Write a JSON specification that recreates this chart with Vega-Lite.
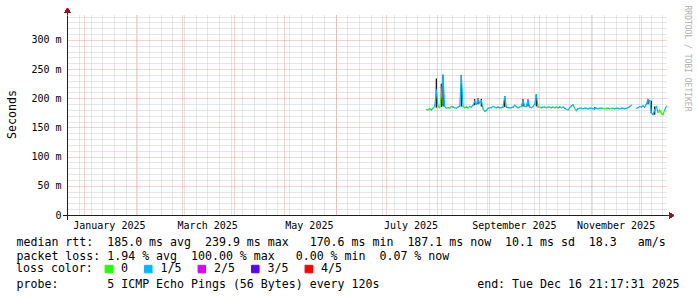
{
 "$schema": "https://vega.github.io/schema/vega-lite/v6.json",
 "width": 600,
 "height": 200,
 "autosize": {"type": "none"},
 "padding": {"left": 67, "top": 15, "right": 30, "bottom": 82},
 "background": "white",
 "config": {"view": {"stroke": null}, "font": "DejaVu Sans Mono"},
 "data": {
  "format": {"parse": {"t": "date"}},
  "values": [
   {"t":"2025-07-25T12:00","med":181,"loss":"0"},
   {"t":"2025-07-26T12:00","med":180,"loss":"0"},
   {"t":"2025-07-27T12:00","med":182,"loss":"1/5"},
   {"t":"2025-07-28T12:00","med":180,"loss":"1/5"},
   {"t":"2025-07-29T12:00","med":183,"loss":"0"},
   {"t":"2025-07-30T12:00","med":186,"loss":"1/5"},
   {"t":"2025-07-31T12:00","med":214,"loss":"1/5","lo":184,"hi":234},
   {"t":"2025-08-01T12:00","med":186,"loss":"0"},
   {"t":"2025-08-02T12:00","med":184,"loss":"0"},
   {"t":"2025-08-03T12:00","med":205,"loss":"1/5","lo":185,"hi":225},
   {"t":"2025-08-04T12:00","med":239.9,"loss":"1/5","lo":186,"hi":240},
   {"t":"2025-08-05T12:00","med":186,"loss":"1/5"},
   {"t":"2025-08-06T12:00","med":183,"loss":"0"},
   {"t":"2025-08-07T12:00","med":184,"loss":"1/5"},
   {"t":"2025-08-08T12:00","med":183,"loss":"0"},
   {"t":"2025-08-09T12:00","med":186,"loss":"1/5"},
   {"t":"2025-08-10T12:00","med":185,"loss":"1/5"},
   {"t":"2025-08-11T12:00","med":184,"loss":"0"},
   {"t":"2025-08-12T12:00","med":183,"loss":"1/5"},
   {"t":"2025-08-13T12:00","med":185,"loss":"1/5"},
   {"t":"2025-08-14T12:00","med":186,"loss":"1/5"},
   {"t":"2025-08-15T12:00","med":238,"loss":"1/5","lo":186,"hi":240},
   {"t":"2025-08-16T12:00","med":186,"loss":"0"},
   {"t":"2025-08-17T12:00","med":184,"loss":"0"},
   {"t":"2025-08-18T12:00","med":185,"loss":"1/5"},
   {"t":"2025-08-19T12:00","med":184,"loss":"0"},
   {"t":"2025-08-20T12:00","med":186,"loss":"1/5"},
   {"t":"2025-08-21T12:00","med":185,"loss":"1/5"},
   {"t":"2025-08-22T12:00","med":188,"loss":"1/5"},
   {"t":"2025-08-23T12:00","med":195,"loss":"1/5","lo":188,"hi":199},
   {"t":"2025-08-24T12:00","med":190,"loss":"1/5"},
   {"t":"2025-08-25T12:00","med":198,"loss":"1/5","lo":190,"hi":200},
   {"t":"2025-08-26T12:00","med":192,"loss":"1/5"},
   {"t":"2025-08-27T12:00","med":196,"loss":"1/5","lo":186,"hi":199},
   {"t":"2025-08-28T12:00","med":182,"loss":"0"},
   {"t":"2025-08-29T12:00","med":178,"loss":"1/5"},
   {"t":"2025-08-30T12:00","med":179,"loss":"1/5"},
   {"t":"2025-08-31T12:00","med":183,"loss":"1/5"},
   {"t":"2025-09-01T12:00","med":184,"loss":"1/5"},
   {"t":"2025-09-02T12:00","med":184,"loss":"1/5"},
   {"t":"2025-09-03T12:00","med":186,"loss":"1/5"},
   {"t":"2025-09-04T12:00","med":185,"loss":"0"},
   {"t":"2025-09-05T12:00","med":184,"loss":"1/5"},
   {"t":"2025-09-06T12:00","med":185,"loss":"1/5"},
   {"t":"2025-09-07T12:00","med":184,"loss":"1/5"},
   {"t":"2025-09-08T12:00","med":184,"loss":"1/5"},
   {"t":"2025-09-09T12:00","med":185,"loss":"1/5"},
   {"t":"2025-09-10T12:00","med":203,"loss":"1/5","lo":185,"hi":204},
   {"t":"2025-09-11T12:00","med":185,"loss":"1/5"},
   {"t":"2025-09-12T12:00","med":184,"loss":"1/5"},
   {"t":"2025-09-13T12:00","med":184,"loss":"1/5"},
   {"t":"2025-09-14T12:00","med":184,"loss":"1/5"},
   {"t":"2025-09-15T12:00","med":185,"loss":"1/5"},
   {"t":"2025-09-16T12:00","med":188,"loss":"1/5"},
   {"t":"2025-09-17T12:00","med":186,"loss":"1/5"},
   {"t":"2025-09-18T12:00","med":184,"loss":"1/5"},
   {"t":"2025-09-19T12:00","med":185,"loss":"0"},
   {"t":"2025-09-20T12:00","med":186,"loss":"1/5"},
   {"t":"2025-09-21T12:00","med":197,"loss":"1/5","lo":186,"hi":199},
   {"t":"2025-09-22T12:00","med":186,"loss":"1/5"},
   {"t":"2025-09-23T12:00","med":186,"loss":"1/5"},
   {"t":"2025-09-24T12:00","med":197,"loss":"1/5","lo":186,"hi":198},
   {"t":"2025-09-25T12:00","med":185,"loss":"1/5"},
   {"t":"2025-09-26T12:00","med":184,"loss":"1/5"},
   {"t":"2025-09-27T12:00","med":186,"loss":"1/5"},
   {"t":"2025-09-28T12:00","med":190,"loss":"1/5"},
   {"t":"2025-09-29T12:00","med":206,"loss":"1/5","lo":186,"hi":207},
   {"t":"2025-09-30T12:00","med":185,"loss":"0"},
   {"t":"2025-10-01T12:00","med":185,"loss":"0"},
   {"t":"2025-10-02T12:00","med":184,"loss":"1/5"},
   {"t":"2025-10-03T12:00","med":185,"loss":"0"},
   {"t":"2025-10-04T12:00","med":185,"loss":"1/5"},
   {"t":"2025-10-05T12:00","med":184,"loss":"0"},
   {"t":"2025-10-06T12:00","med":185,"loss":"1/5"},
   {"t":"2025-10-07T12:00","med":185,"loss":"0"},
   {"t":"2025-10-08T12:00","med":184,"loss":"1/5"},
   {"t":"2025-10-09T12:00","med":185,"loss":"0"},
   {"t":"2025-10-10T12:00","med":184,"loss":"1/5"},
   {"t":"2025-10-11T12:00","med":185,"loss":"0"},
   {"t":"2025-10-12T12:00","med":184,"loss":"1/5"},
   {"t":"2025-10-13T12:00","med":185,"loss":"1/5"},
   {"t":"2025-10-14T12:00","med":184,"loss":"0"},
   {"t":"2025-10-15T12:00","med":185,"loss":"1/5"},
   {"t":"2025-10-16T12:00","med":183,"loss":"1/5"},
   {"t":"2025-10-17T12:00","med":181,"loss":"0"},
   {"t":"2025-10-18T12:00","med":180,"loss":"1/5"},
   {"t":"2025-10-19T12:00","med":184,"loss":"1/5"},
   {"t":"2025-10-20T12:00","med":187,"loss":"1/5"},
   {"t":"2025-10-21T12:00","med":189,"loss":"1/5"},
   {"t":"2025-10-22T12:00","med":183,"loss":"0"},
   {"t":"2025-10-23T12:00","med":179,"loss":"1/5"},
   {"t":"2025-10-24T12:00","med":182,"loss":"1/5"},
   {"t":"2025-10-25T12:00","med":183,"loss":"1/5"},
   {"t":"2025-10-26T12:00","med":183,"loss":"1/5"},
   {"t":"2025-10-27T12:00","med":182,"loss":"1/5"},
   {"t":"2025-10-28T12:00","med":183,"loss":"1/5"},
   {"t":"2025-10-29T12:00","med":183,"loss":"1/5"},
   {"t":"2025-10-30T12:00","med":182,"loss":"1/5"},
   {"t":"2025-10-31T12:00","med":183,"loss":"1/5"},
   {"t":"2025-11-01T12:00","med":183,"loss":"1/5"},
   {"t":"2025-11-02T12:00","med":182,"loss":"1/5"},
   {"t":"2025-11-03T12:00","med":183,"loss":"1/5","lo":181,"hi":185},
   {"t":"2025-11-04T12:00","med":183,"loss":"1/5"},
   {"t":"2025-11-05T12:00","med":182,"loss":"1/5"},
   {"t":"2025-11-06T12:00","med":183,"loss":"1/5"},
   {"t":"2025-11-07T12:00","med":183,"loss":"1/5"},
   {"t":"2025-11-08T12:00","med":183,"loss":"0"},
   {"t":"2025-11-09T12:00","med":182,"loss":"0"},
   {"t":"2025-11-10T12:00","med":183,"loss":"0"},
   {"t":"2025-11-11T12:00","med":183,"loss":"1/5"},
   {"t":"2025-11-12T12:00","med":182,"loss":"0"},
   {"t":"2025-11-13T12:00","med":183,"loss":"0"},
   {"t":"2025-11-14T12:00","med":183,"loss":"1/5"},
   {"t":"2025-11-15T12:00","med":182,"loss":"1/5"},
   {"t":"2025-11-16T12:00","med":183,"loss":"1/5"},
   {"t":"2025-11-17T12:00","med":183,"loss":"1/5"},
   {"t":"2025-11-18T12:00","med":182,"loss":"1/5"},
   {"t":"2025-11-19T12:00","med":183,"loss":"1/5"},
   {"t":"2025-11-20T12:00","med":183,"loss":"1/5"},
   {"t":"2025-11-21T12:00","med":182,"loss":"1/5"},
   {"t":"2025-11-22T12:00","med":183,"loss":"1/5"},
   {"t":"2025-11-23T12:00","med":184,"loss":"1/5"},
   {"t":"2025-11-24T12:00","med":186,"loss":"1/5"},
   {"t":"2025-11-25T12:00","med":188,"loss":"2/5"},
   {"t":"2025-11-26T12:00","med":null},
   {"t":"2025-11-27T12:00","med":null},
   {"t":"2025-11-28T12:00","med":183,"loss":"1/5"},
   {"t":"2025-11-29T12:00","med":184,"loss":"1/5"},
   {"t":"2025-11-30T12:00","med":186,"loss":"1/5"},
   {"t":"2025-12-01T12:00","med":185,"loss":"1/5"},
   {"t":"2025-12-02T12:00","med":187,"loss":"1/5"},
   {"t":"2025-12-03T12:00","med":185,"loss":"1/5"},
   {"t":"2025-12-04T12:00","med":190,"loss":"1/5"},
   {"t":"2025-12-05T12:00","med":198,"loss":"1/5","lo":190,"hi":199},
   {"t":"2025-12-06T12:00","med":196,"loss":"1/5"},
   {"t":"2025-12-07T12:00","med":176,"loss":"1/5","lo":174,"hi":196},
   {"t":"2025-12-08T12:00","med":172,"loss":"1/5"},
   {"t":"2025-12-09T12:00","med":180,"loss":"1/5","lo":172,"hi":186},
   {"t":"2025-12-10T12:00","med":186,"loss":"1/5"},
   {"t":"2025-12-11T12:00","med":176,"loss":"0"},
   {"t":"2025-12-12T12:00","med":180,"loss":"0"},
   {"t":"2025-12-13T12:00","med":174,"loss":"0"},
   {"t":"2025-12-14T12:00","med":172,"loss":"0"},
   {"t":"2025-12-15T12:00","med":180,"loss":"1/5"},
   {"t":"2025-12-16T12:00","med":186,"loss":"1/5"}
  ]
 },
 "resolve": {"axis": {"x": "independent", "y": "independent"}},
 "layer": [
  {
   "transform": [{"filter": "datum.hi != null"}],
   "mark": {"type": "rule", "color": "#1a1a1a", "strokeWidth": 1.3},
   "encoding": {
    "x": {"field": "t", "type": "temporal",
     "scale": {"domain": [{"year":2024,"month":12,"date":21,"hours":21,"minutes":17,"seconds":31},{"year":2025,"month":12,"date":16,"hours":21,"minutes":17,"seconds":31}], "nice": false},
     "axis": {"orient": "bottom", "tickCount": {"interval": "week", "step": 1}, "labels": false, "ticks": false, "domain": false, "grid": true, "gridColor": "#cccccc", "gridDash": [1, 1],
      "title": "probe:\u00a0\u00a0\u00a0\u00a0\u00a0\u00a0\u00a05\u00a0ICMP\u00a0Echo\u00a0Pings\u00a0(56\u00a0Bytes)\u00a0every\u00a0120s\u00a0\u00a0\u00a0\u00a0\u00a0\u00a0\u00a0\u00a0\u00a0\u00a0\u00a0\u00a0\u00a0\u00a0end:\u00a0Tue\u00a0Dec\u00a016\u00a021:17:31\u00a02025",
      "titleFont": "DejaVu Sans Mono", "titleFontSize": 11.6, "titleFontWeight": "normal", "titleColor": "#000000", "titleAlign": "left", "titleAnchor": "start", "titleX": -51, "titleY": 72, "titleBaseline": "alphabetic"}},
    "y": {"field": "lo", "type": "quantitative",
     "scale": {"domain": [0, 342.857], "nice": false, "zero": false},
     "axis": {"orient": "left", "values": [10,20,30,40,60,70,80,90,110,120,130,140,160,170,180,190,210,220,230,240,260,270,280,290,310,320,330,340], "labels": false, "ticks": false, "domain": false, "grid": true, "gridColor": "#cccccc", "gridDash": [1, 1], "title": null}},
    "y2": {"field": "hi"}
   }
  },
  {
   "transform": [
    {"window": [{"op": "lead", "field": "med", "as": "med2"}, {"op": "lead", "field": "t", "as": "t2"}], "sort": [{"field": "t", "order": "ascending"}]},
    {"filter": "datum.med != null && datum.med2 != null"}
   ],
   "mark": {"type": "rule", "strokeWidth": 1.2, "strokeCap": "square"},
   "encoding": {
    "x": {"field": "t", "type": "temporal",
     "scale": {"domain": [{"year":2024,"month":12,"date":21,"hours":21,"minutes":17,"seconds":31},{"year":2025,"month":12,"date":16,"hours":21,"minutes":17,"seconds":31}], "nice": false},
     "axis": {"orient": "bottom", "tickCount": {"interval": "month", "step": 1}, "labels": false, "ticks": false, "domain": false, "grid": true, "gridColor": "#de4f4f", "gridOpacity": 0.5, "gridDash": [1, 1], "title": null}},
    "x2": {"field": "t2"},
    "y": {"field": "med", "type": "quantitative",
     "scale": {"domain": [0, 342.857], "nice": false, "zero": false},
     "axis": {"orient": "left", "values": [50,100,150,200,250,300], "labels": false, "ticks": false, "domain": false, "grid": true, "gridColor": "#de4f4f", "gridOpacity": 0.5, "gridDash": [1, 1], "title": null}},
    "y2": {"field": "med2"},
    "color": {"field": "loss", "type": "nominal",
     "scale": {"domain": ["0", "1/5", "2/5", "3/5", "4/5"], "range": ["#26ff00", "#00b8ff", "#dd00ff", "#5e00ff", "#ff0000"]},
     "legend": {"orient": "none", "legendX": -51, "legendY": 248, "padding": 0, "direction": "horizontal", "title": "loss color:", "titleOrient": "left", "titleFont": "DejaVu Sans Mono", "titleFontSize": 11.6, "titleFontWeight": "normal", "titleColor": "#000000", "titlePadding": 10, "titleBaseline": "middle", "symbolType": "square", "symbolSize": 56, "symbolStrokeWidth": 1, "symbolOpacity": 1, "labelFont": "DejaVu Sans Mono", "labelFontSize": 11.6, "labelColor": "#000000", "labelOffset": 6.5, "columnPadding": 13.5,
      "encode": {"symbols": {"update": {"fill": {"scale": "color", "field": "value"}, "stroke": {"value": "#000000"}, "strokeWidth": {"value": 1}, "opacity": {"value": 1}}}}}}
   }
  },
  {
   "mark": {"type": "point", "shape": "M0,0H2V-2.5L7,0.5L2,3.5V1H0Z", "filled": true, "size": 4, "color": "#801f1f", "strokeWidth": 0, "opacity": 1},
   "encoding": {
    "x": {"datum": {"year":2025,"month":12,"date":16,"hours":21,"minutes":17,"seconds":31}, "type": "temporal",
     "scale": {"domain": [{"year":2024,"month":12,"date":21,"hours":21,"minutes":17,"seconds":31},{"year":2025,"month":12,"date":16,"hours":21,"minutes":17,"seconds":31}], "nice": false},
     "axis": {"orient": "bottom", "values": [{"year":2025,"month":1,"date":16},{"year":2025,"month":3,"date":16},{"year":2025,"month":5,"date":16},{"year":2025,"month":7,"date":16},{"year":2025,"month":9,"date":16},{"year":2025,"month":11,"date":16}], "format": "%B %Y", "formatType": "time", "labelFont": "DejaVu Sans Mono", "labelFontSize": 10, "labelColor": "#000000", "labelPadding": 5, "labelFlush": false, "labelOverlap": false, "labelBound": false, "ticks": false, "tickSize": 0, "grid": false, "domain": true, "domainColor": "#1f1f1f", "domainWidth": 1,
      "title": ["median\u00a0rtt:\u00a0\u00a0185.0\u00a0ms\u00a0avg\u00a0\u00a0239.9\u00a0ms\u00a0max\u00a0\u00a0\u00a0170.6\u00a0ms\u00a0min\u00a0\u00a0187.1\u00a0ms\u00a0now\u00a0\u00a010.1\u00a0ms\u00a0sd\u00a0\u00a018.3\u00a0\u00a0\u00a0am/s", "packet\u00a0loss:\u00a01.94\u00a0%\u00a0avg\u00a0\u00a0100.00\u00a0%\u00a0max\u00a0\u00a0\u00a00.00\u00a0%\u00a0min\u00a0\u00a00.07\u00a0%\u00a0now"],
      "titleFont": "DejaVu Sans Mono", "titleFontSize": 11.6, "titleFontWeight": "normal", "titleColor": "#000000", "titleAlign": "left", "titleAnchor": "start", "titleX": -51, "titleY": 30, "titleBaseline": "alphabetic", "titleLineHeight": 14}},
    "y": {"datum": 0, "type": "quantitative",
     "scale": {"domain": [0, 342.857], "nice": false, "zero": false},
     "axis": {"orient": "left", "values": [0,50,100,150,200,250,300], "labelExpr": "datum.value == 0 ? '0' : datum.value + ' m'", "labelFont": "DejaVu Sans Mono", "labelFontSize": 10, "labelColor": "#000000", "labelPadding": 6, "ticks": false, "tickSize": 0, "grid": false, "domain": true, "domainColor": "#1f1f1f", "domainWidth": 1,
      "title": "Seconds", "titleFont": "DejaVu Sans Mono", "titleFontSize": 11.6, "titleFontWeight": "normal", "titleColor": "#000000", "titleAngle": -90, "titleX": -55, "titleY": 99, "titleAlign": "center", "titleBaseline": "middle"}}
   }
  },
  {
   "mark": {"type": "point", "shape": "M0,0V-2H-2.5L0.5,-7L3.5,-2H1V0Z", "filled": true, "size": 4, "color": "#801f1f", "strokeWidth": 0, "opacity": 1},
   "encoding": {
    "x": {"datum": {"year":2024,"month":12,"date":21,"hours":21,"minutes":17,"seconds":31}, "type": "temporal",
     "scale": {"domain": [{"year":2024,"month":12,"date":21,"hours":21,"minutes":17,"seconds":31},{"year":2025,"month":12,"date":16,"hours":21,"minutes":17,"seconds":31}], "nice": false},
     "axis": null},
    "y": {"datum": 342.857, "type": "quantitative",
     "scale": {"domain": [0, 342.857], "nice": false, "zero": false},
     "axis": {"orient": "right", "labels": false, "ticks": false, "domain": false, "grid": false, "title": "RRDTOOL / TOBI OETIKER", "titleFont": "DejaVu Sans Mono", "titleFontSize": 8, "titleFontWeight": "normal", "titleColor": "#b0b0b0", "titleAngle": 90, "titleX": 19, "titleY": -10, "titleAlign": "left", "titleBaseline": "middle"}}
   }
  },
  {
   "mark": {"type": "point", "shape": "M-4,0H1V5H0V1H-4Z", "filled": true, "size": 4, "color": "#1f1f1f", "strokeWidth": 0, "opacity": 1},
   "encoding": {
    "x": {"datum": {"year":2024,"month":12,"date":21,"hours":21,"minutes":17,"seconds":31}, "type": "temporal",
     "scale": {"domain": [{"year":2024,"month":12,"date":21,"hours":21,"minutes":17,"seconds":31},{"year":2025,"month":12,"date":16,"hours":21,"minutes":17,"seconds":31}], "nice": false},
     "axis": null},
    "y": {"datum": 0, "type": "quantitative",
     "scale": {"domain": [0, 342.857], "nice": false, "zero": false},
     "axis": null}
   }
  }
 ]
}
